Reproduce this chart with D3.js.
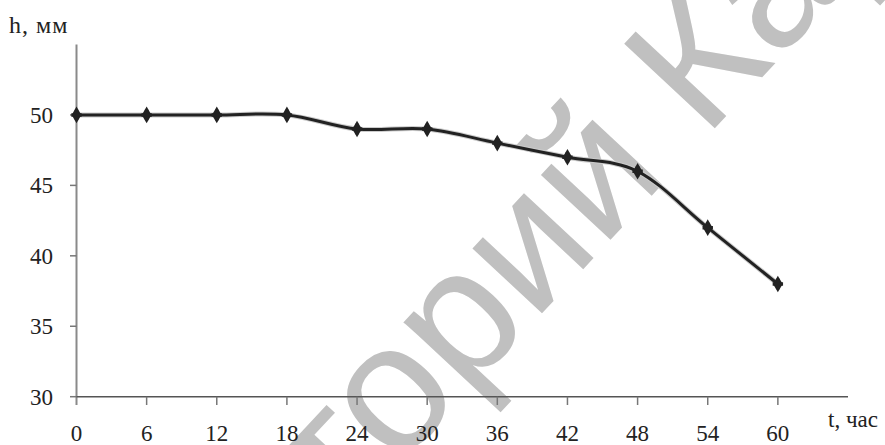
<!DOCTYPE html>
<html>
<head>
<meta charset="utf-8">
<script src="https://cdn.jsdelivr.net/npm/d3@7"></script>
<style>
  body { margin: 0; background: #fff; }
</style>
</head>
<body>
<svg id="chart" width="885" height="445"></svg>
<script>
// данные с графика
const hours = [0, 6, 12, 18, 24, 30, 36, 42, 48, 54, 60];
const height = [50, 50, 50, 50, 49, 49, 48, 47, 46, 42, 38];
const xTicks = [0, 6, 12, 18, 24, 30, 36, 42, 48, 54, 60];
const yTicks = [30, 35, 40, 45, 50];

const serif = "'Liberation Serif', 'Times New Roman', Times, 'DejaVu Serif', serif";

const svg = d3.select("#chart");

const x = d3.scaleLinear().domain([0, 66]).range([76.5, 848]);
const y = d3.scaleLinear().domain([30, 55]).range([396.7, 44.5]);

// водяной знак
svg.append("text")
  .attr("transform", "translate(-61,960) rotate(-47)")
  .attr("font-family", "'Liberation Sans', Arial, sans-serif")
  .attr("font-size", 180)
  .attr("fill", "#c0c0c0")
  .text("Репозиторий КарГУ");

// ось Y
svg.append("line")
  .attr("x1", x(0)).attr("x2", x(0))
  .attr("y1", y(55)).attr("y2", 405)
  .attr("stroke", "#8a8a8a").attr("stroke-width", 2);

svg.selectAll(".ytick")
  .data(yTicks)
  .enter().append("line")
  .attr("x1", 70).attr("x2", x(0))
  .attr("y1", d => y(d)).attr("y2", d => y(d))
  .attr("stroke", "#777").attr("stroke-width", 1.5);

svg.selectAll(".ylab")
  .data(yTicks)
  .enter().append("text")
  .attr("x", 53)
  .attr("y", d => y(d))
  .attr("dy", "0.35em")
  .attr("text-anchor", "end")
  .attr("font-family", serif)
  .attr("font-size", 23)
  .attr("fill", "#222")
  .text(d => d);

// ось X
svg.append("line")
  .attr("x1", x(0)).attr("x2", x(66))
  .attr("y1", y(30)).attr("y2", y(30))
  .attr("stroke", "#555").attr("stroke-width", 1.5);

svg.selectAll(".xtick")
  .data(xTicks.slice(1))
  .enter().append("line")
  .attr("x1", d => x(d)).attr("x2", d => x(d))
  .attr("y1", y(30)).attr("y2", 405)
  .attr("stroke", "#777").attr("stroke-width", 1.5);

svg.selectAll(".xlab")
  .data(xTicks)
  .enter().append("text")
  .attr("x", d => x(d))
  .attr("y", 441)
  .attr("text-anchor", "middle")
  .attr("font-family", serif)
  .attr("font-size", 23)
  .attr("fill", "#222")
  .text(d => d);

// подписи осей
svg.append("text").attr("x", 9).attr("y", 33)
  .attr("font-family", serif).attr("font-size", 24).attr("fill", "#222")
  .attr("letter-spacing", 1)
  .text("h, мм");
svg.append("text").attr("x", 828).attr("y", 427)
  .attr("font-family", serif).attr("font-size", 23).attr("fill", "#222")
  .text("t, час");

// кривая
const pts = hours.map((h, i) => ({ t: h, h: height[i] }));

const line = d3.line()
  .x(d => x(d.t))
  .y(d => y(d.h))
  .curve(d3.curveCardinal.tension(0));

svg.append("path")
  .datum(pts)
  .attr("d", line)
  .attr("fill", "none")
  .attr("stroke", "#ccc")
  .attr("stroke-width", 5);

svg.append("path")
  .datum(pts)
  .attr("d", line)
  .attr("fill", "none")
  .attr("stroke", "#222")
  .attr("stroke-width", 3);

svg.selectAll(".mark")
  .data(pts)
  .enter().append("path")
  .attr("transform", d => `translate(${x(d.t)},${y(d.h)})`)
  .attr("d", d3.symbol().type(d3.symbolDiamond).size(80))
  .attr("fill", "#222");

svg.selectAll(".cross")
  .data(pts)
  .enter().append("path")
  .attr("transform", d => `translate(${x(d.t)},${y(d.h)})`)
  .attr("d", d3.symbol().type(d3.symbolCross).size(60))
  .attr("fill", "#222");
</script>
</body>
</html>
